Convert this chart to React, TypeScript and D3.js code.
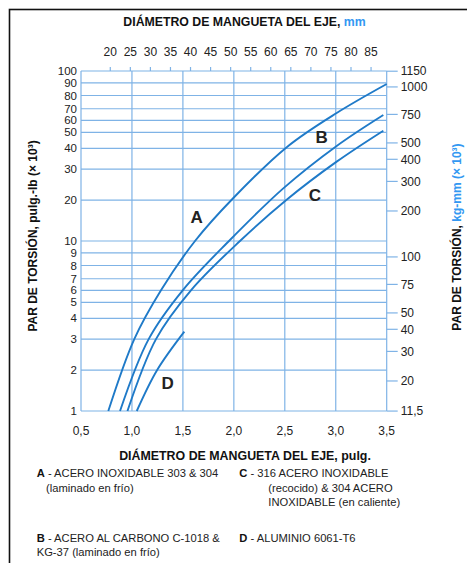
import React, { useEffect, useRef } from 'react';
import * as d3 from 'd3';

const W = 467;
const H = 563;
const M = { top: 71, right: 80.3, bottom: 152, left: 81 };

const FONT = '"Liberation Sans", Arial, Helvetica, sans-serif';
const GRID = '#7fb3e6';
const CURVE = '#1f7ac8';
const BLUE = '#3398f2';
const INK = '#222';

// axes
const diamIn = [0.5, 1.0, 1.5, 2.0, 2.5, 3.0, 3.5];
const diamInLabels = ['0,5', '1,0', '1,5', '2,0', '2,5', '3,0', '3,5'];
const diamMm = [20, 25, 30, 35, 40, 45, 50, 55, 60, 65, 70, 75, 80, 85];
const torqueLbIn = [1, 2, 3, 4, 5, 6, 7, 8, 9, 10, 20, 30, 40, 50, 60, 70, 80, 90, 100];
const torqueKgMm = [1150, 1000, 750, 500, 400, 300, 200, 100, 75, 50, 40, 30, 20, 11.5];
const torqueKgMmLabels = ['1150', '1000', '750', '500', '400', '300', '200', '100', '75', '50', '40', '30', '20', '11,5'];
// the printed grid is not a true log grid: spacing of 1..10 inside each decade as drawn
const decadeSpacing = [0, 0.24, 0.423, 0.545, 0.639, 0.71, 0.778, 0.856, 0.93, 1];
const LBIN_TO_KGMM = 11.521;

// curves: diameter (pulg.) vs torque (pulg.-lb x 10^3)
const diamA = [0.768, 1.023, 1.285, 1.619, 1.995, 2.522, 3.009, 3.5];
const torqueA = [1, 3, 6, 10, 20.7, 40.9, 66.3, 89.1];
const diamB = [0.883, 1.164, 1.498, 1.962, 2.485, 3.009, 3.467];
const torqueB = [1, 3, 6, 10.25, 23.8, 41.5, 64.6];
const diamC = [0.956, 1.236, 1.579, 2.06, 2.512, 3.009, 3.467];
const torqueC = [1, 3, 6, 10, 20, 33.6, 51.4];
const diamD = [1.047, 1.246, 1.514];
const torqueD = [1, 2, 3.36];

const curveNames = ['A', 'B', 'C', 'D'];
const labelDiam = [1.635, 2.862, 2.796, 1.351];
const labelTorque = [16, 46.9, 21.7, 1.68];

const legend = [
  { key: 'A', lines: ['ACERO INOXIDABLE 303 & 304', '(laminado en frío)'] },
  { key: 'B', lines: ['ACERO AL CARBONO C-1018 &', 'KG-37 (laminado en frío)'] },
  { key: 'C', lines: ['316 ACERO INOXIDABLE', '(recocido) & 304 ACERO', 'INOXIDABLE (en caliente)'] },
  { key: 'D', lines: ['ALUMINIO 6061-T6'] },
];

export default function App() {
  const ref = useRef<SVGSVGElement | null>(null);

  useEffect(() => {
    const el = ref.current;
    if (!el) return;
    const svg = d3.select(el);
    svg.selectAll('*').remove();

    const innerW = W - M.left - M.right;
    const innerH = H - M.top - M.bottom;
    const x0 = M.left;
    const x1 = M.left + innerW;
    const y0 = M.top;
    const y1 = M.top + innerH;

    const x = d3.scaleLinear().domain([0.5, 3.5]).range([x0, x1]);
    const xMm = d3.scaleLinear().domain([0.5 * 25.4, 3.5 * 25.4]).range([x0, x1]);
    const warp = (v: number) => {
      const e = Math.floor(Math.log10(v) + 1e-9);
      const m = Math.round(v / Math.pow(10, e));
      return (e + decadeSpacing[m - 1]) / 2;
    };
    const y = d3
      .scaleLinear()
      .domain(torqueLbIn)
      .range(torqueLbIn.map((v) => y1 - warp(v) * innerH));

    // frame
    svg
      .append('rect')
      .attr('x', 9.5)
      .attr('y', 9.5)
      .attr('width', W)
      .attr('height', H)
      .attr('fill', 'none')
      .attr('stroke', '#111')
      .attr('stroke-width', 1.6);

    const g = svg.append('g');

    // grid
    g.selectAll('line.hgrid')
      .data(torqueLbIn)
      .join('line')
      .attr('x1', x0)
      .attr('x2', x1)
      .attr('y1', (d) => y(d))
      .attr('y2', (d) => y(d))
      .attr('stroke', GRID)
      .attr('stroke-width', 1.2);
    g.selectAll('line.vgrid')
      .data(diamIn)
      .join('line')
      .attr('x1', (d) => x(d))
      .attr('x2', (d) => x(d))
      .attr('y1', y0)
      .attr('y2', y1)
      .attr('stroke', GRID)
      .attr('stroke-width', 1.2);

    // top mm ticks
    g.selectAll('line.mmtick')
      .data(diamMm)
      .join('line')
      .attr('x1', (d) => xMm(d))
      .attr('x2', (d) => xMm(d))
      .attr('y1', y0)
      .attr('y2', y0 - 4)
      .attr('stroke', GRID)
      .attr('stroke-width', 1.2);
    g.selectAll('text.mm')
      .data(diamMm)
      .join('text')
      .attr('x', (d) => xMm(d))
      .attr('y', 52)
      .attr('dy', '0.35em')
      .attr('text-anchor', 'middle')
      .attr('font-family', FONT)
      .attr('font-size', 12)
      .attr('fill', INK)
      .text((d) => d);

    // right kg-mm ticks
    const yKg = (v: number) => y(v / LBIN_TO_KGMM);
    g.selectAll('line.kgtick')
      .data(torqueKgMm)
      .join('line')
      .attr('x1', x1)
      .attr('x2', x1 + 11)
      .attr('y1', (d) => yKg(d))
      .attr('y2', (d) => yKg(d))
      .attr('stroke', GRID)
      .attr('stroke-width', 1.2);
    g.selectAll('text.kg')
      .data(torqueKgMm)
      .join('text')
      .attr('x', x1 + 14)
      .attr('y', (d) => yKg(d))
      .attr('dy', '0.35em')
      .attr('font-family', FONT)
      .attr('font-size', 12)
      .attr('fill', INK)
      .text((d, i) => torqueKgMmLabels[i]);

    // left ticks
    g.selectAll('text.lb')
      .data(torqueLbIn)
      .join('text')
      .attr('x', x0 - 4)
      .attr('y', (d) => y(d))
      .attr('dy', '0.35em')
      .attr('text-anchor', 'end')
      .attr('font-family', FONT)
      .attr('font-size', 11.5)
      .attr('fill', INK)
      .text((d) => d);

    // bottom ticks
    g.selectAll('text.in')
      .data(diamIn)
      .join('text')
      .attr('x', (d) => x(d))
      .attr('y', 431)
      .attr('dy', '0.35em')
      .attr('text-anchor', 'middle')
      .attr('font-family', FONT)
      .attr('font-size', 12)
      .attr('fill', INK)
      .text((d, i) => diamInLabels[i]);

    // curves
    const line = d3
      .line<[number, number]>()
      .x((d) => x(d[0]))
      .y((d) => y(d[1]))
      .curve(d3.curveCatmullRom.alpha(0.5));
    const curves = [
      d3.zip(diamA, torqueA),
      d3.zip(diamB, torqueB),
      d3.zip(diamC, torqueC),
      d3.zip(diamD, torqueD),
    ] as [number, number][][];
    g.selectAll('path.curve')
      .data(curves)
      .join('path')
      .attr('d', (d) => line(d))
      .attr('fill', 'none')
      .attr('stroke', CURVE)
      .attr('stroke-width', 1.9);

    g.selectAll('text.clabel')
      .data(curveNames)
      .join('text')
      .attr('x', (d, i) => x(labelDiam[i]))
      .attr('y', (d, i) => y(labelTorque[i]))
      .attr('dy', '0.36em')
      .attr('text-anchor', 'middle')
      .attr('font-family', FONT)
      .attr('font-weight', 'bold')
      .attr('font-size', 17)
      .attr('fill', INK)
      .text((d) => d);

    // titles
    const top = svg
      .append('text')
      .attr('x', 244.5)
      .attr('y', 22)
      .attr('dy', '0.35em')
      .attr('text-anchor', 'middle')
      .attr('font-family', FONT)
      .attr('font-weight', 'bold')
      .attr('font-size', 12.3)
      .attr('fill', '#111');
    top.append('tspan').text('DIÁMETRO DE MANGUETA DEL EJE, ');
    top.append('tspan').attr('fill', BLUE).text('mm');

    svg
      .append('text')
      .attr('x', 245)
      .attr('y', 456)
      .attr('dy', '0.35em')
      .attr('text-anchor', 'middle')
      .attr('font-family', FONT)
      .attr('font-weight', 'bold')
      .attr('font-size', 12.4)
      .attr('fill', '#111')
      .text('DIÁMETRO DE MANGUETA DEL EJE, pulg.');

    svg
      .append('text')
      .attr('transform', 'translate(32.5,236) rotate(-90)')
      .attr('dy', '0.35em')
      .attr('text-anchor', 'middle')
      .attr('font-family', FONT)
      .attr('font-weight', 'bold')
      .attr('font-size', 12)
      .attr('fill', '#111')
      .text('PAR DE TORSIÓN, pulg.-lb (× 10³)');

    const rt = svg
      .append('text')
      .attr('transform', 'translate(456.5,237) rotate(-90)')
      .attr('dy', '0.35em')
      .attr('text-anchor', 'middle')
      .attr('font-family', FONT)
      .attr('font-weight', 'bold')
      .attr('font-size', 12)
      .attr('fill', '#111');
    rt.append('tspan').text('PAR DE TORSIÓN, ');
    rt.append('tspan').attr('fill', BLUE).text('kg-mm (× 10³)');

    // legend
    const colX = [36.7, 36.7, 239.3, 239.3];
    const rowY = [473.3, 537.7, 473.3, 537.7];
    const contX = [46, 36.7, 268.3, 268.3];
    const lh = 14.6;
    legend.forEach((item, i) => {
      const t = svg
        .append('text')
        .attr('x', colX[i])
        .attr('y', rowY[i])
        .attr('dy', '0.35em')
        .attr('font-family', FONT)
        .attr('font-size', 11.2)
        .attr('fill', INK);
      t.append('tspan').attr('font-weight', 'bold').attr('fill', '#111').text(item.key);
      t.append('tspan').text(' - ' + item.lines[0]);
      item.lines.slice(1).forEach((ln, j) => {
        svg
          .append('text')
          .attr('x', contX[i])
          .attr('y', rowY[i] + lh * (j + 1))
          .attr('dy', '0.35em')
          .attr('font-family', FONT)
          .attr('font-size', 11.2)
          .attr('fill', INK)
          .text(ln);
      });
    });
  }, []);

  return (
    <svg
      ref={ref}
      width={W}
      height={H}
      style={{ position: 'absolute', left: 0, top: 0, background: '#fff' }}
    />
  );
}
